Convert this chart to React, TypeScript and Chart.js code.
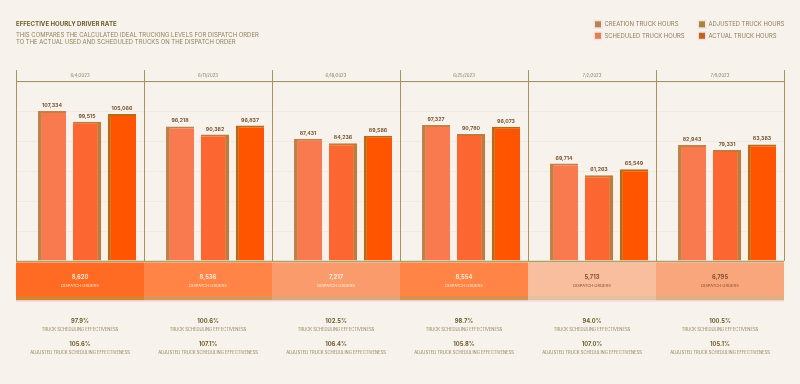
import React, { useEffect, useRef } from "react";
import { Chart, registerables } from "chart.js";

Chart.register(...registerables);

const weeks = ["6/4/2023", "6/11/2023", "6/18/2023", "6/25/2023", "7/2/2023", "7/9/2023"];
const creationHours = [107334, 96218, 87431, 97327, 69714, 82943];
const scheduledHours = [99515, 90382, 84236, 90780, 61263, 79331];
const actualHours = [105066, 96837, 89586, 96073, 65549, 83383];
const dispatchOrders = [8620, 8536, 7217, 8554, 5713, 6795];
const schedulingEffectiveness = ["97.9%", "100.6%", "102.5%", "98.7%", "94.0%", "100.5%"];
const adjustedEffectiveness = ["105.6%", "107.1%", "106.4%", "105.8%", "107.0%", "105.1%"];
const legendLabels = ["CREATION TRUCK HOURS", "SCHEDULED TRUCK HOURS", "ADJUSTED TRUCK HOURS", "ACTUAL TRUCK HOURS"];
const legendColors = ["#AE8A4E", "#DB834B", "#A08A38", "#BC6620"];

const TITLE = "EFFECTIVE HOURLY DRIVER RATE";
const SUB1 = "THIS COMPARES THE CALCULATED IDEAL TRUCKING LEVELS FOR DISPATCH ORDER";
const SUB2 = "TO THE ACTUAL USED AND SCHEDULED TRUCKS ON THE DISPATCH ORDER";

const panelColors = ["#FF6B22", "#FF8445", "#FA9B6C", "#FF8445", "#F8BE9E", "#F9A67D"];
const stripColors = ["#D8842F", "#D99659", "#DDA77A", "#D6914E", "#E4C19E", "#DFB084"];
const panelText = ["#FFE2CC", "#FFE6D6", "#FFEDE2", "#FFE6D6", "#8A4E2E", "#8A4E2E"];

const FONT = "Inter, 'Noto Sans', sans-serif";
const BAR_SHIFT = 7;
const fmt = (v: number) => v.toLocaleString("en-US");

const decor = {
  id: "decor",
  beforeDraw(chart: any) {
    const { ctx, chartArea: ca, scales } = chart;
    const x = scales.x;
    const n = weeks.length;
    const band = (ca.right - ca.left) / n;
    ctx.save();
    ctx.fillStyle = "#F7F3EC";
    ctx.fillRect(0, 0, chart.width, chart.height);

    ctx.textBaseline = "middle";
    ctx.textAlign = "left";
    ctx.fillStyle = "#6E5B2A";
    ctx.font = `bold 6.1px ${FONT}`;
    ctx.fillText(TITLE, 16, 24);
    ctx.fillStyle = "#8F7F5A";
    ctx.font = `5.95px ${FONT}`;
    ctx.fillText(SUB1, 16, 35);
    ctx.fillText(SUB2, 16, 42.3);

    // legend 2x2
    const cols = [595, 699];
    const rows = [24.3, 35.8];
    legendLabels.forEach((lab, i) => {
      const cx = cols[Math.floor(i / 2)];
      const cy = rows[i % 2];
      ctx.fillStyle = "#FBDDE3";
      ctx.fillRect(cx - 1.5, cy - 4.5, 9, 9);
      ctx.fillStyle = legendColors[i];
      ctx.fillRect(cx, cy - 3, 6, 6);
      ctx.fillStyle = "#8C7B57";
      ctx.font = `5.9px ${FONT}`;
      ctx.fillText(lab, cx + 9.5, cy);
    });

    // frame lines
    ctx.strokeStyle = "#A39463";
    ctx.lineWidth = 1;
    for (let i = 0; i <= n; i++) {
      const xx = Math.round(ca.left + i * band) + 0.5;
      ctx.beginPath();
      ctx.moveTo(xx, 70);
      ctx.lineTo(xx, ca.bottom);
      ctx.stroke();
    }
    ctx.beginPath();
    ctx.moveTo(ca.left, Math.round(ca.top) - 0.5);
    ctx.lineTo(ca.right, Math.round(ca.top) - 0.5);
    ctx.stroke();

    // dates
    ctx.textAlign = "center";
    ctx.fillStyle = "#8C7B57";
    ctx.font = `4.3px ${FONT}`;
    weeks.forEach((w, i) => ctx.fillText(w, x.getPixelForValue(i), 75.5));

    // dispatch panels
    const pTop = ca.bottom + 1.5;
    weeks.forEach((_, i) => {
      const l = ca.left + i * band;
      ctx.fillStyle = panelColors[i];
      ctx.fillRect(l, pTop, band, 33.5);
      ctx.fillStyle = stripColors[i];
      ctx.fillRect(l, pTop + 33.5, band, 4.5);
      const cx = x.getPixelForValue(i);
      ctx.fillStyle = panelText[i];
      ctx.font = `bold 5.8px ${FONT}`;
      ctx.fillText(fmt(dispatchOrders[i]), cx, 277.3);
      ctx.font = `4.1px ${FONT}`;
      ctx.fillText("DISPATCH ORDERS", cx, 285.5);
    });
    ctx.fillStyle = "#FBDDE3";
    ctx.fillRect(ca.left, pTop + 38, ca.right - ca.left, 1.5);

    // stats
    weeks.forEach((_, i) => {
      const cx = x.getPixelForValue(i);
      ctx.fillStyle = "#6E5B2A";
      ctx.font = `bold 5.8px ${FONT}`;
      ctx.fillText(schedulingEffectiveness[i], cx, 321.6);
      ctx.fillText(adjustedEffectiveness[i], cx, 344.7);
      ctx.fillStyle = "#8F7F5A";
      ctx.font = `4.15px ${FONT}`;
      ctx.fillText("TRUCK SCHEDULING EFFECTIVENESS", cx, 329.4);
      ctx.fillText("ADJUSTED TRUCK SCHEDULING EFFECTIVENESS", cx, 353);
    });
    ctx.restore();
  },
  beforeDatasetsDraw(chart: any) {
    chart.ctx.save();
    chart.ctx.translate(BAR_SHIFT, 0);
  },
  afterDatasetsDraw(chart: any) {
    const { ctx, chartArea: ca } = chart;
    ctx.textAlign = "center";
    ctx.textBaseline = "middle";
    ctx.fillStyle = "#7B5634";
    ctx.font = `bold 5.2px ${FONT}`;
    chart.data.datasets.forEach((ds: any, di: number) => {
      const meta = chart.getDatasetMeta(di);
      meta.data.forEach((bar: any, i: number) => {
        ctx.fillText(fmt(ds.data[i]), bar.x, bar.y - 5.5);
      });
    });
    ctx.restore();
    ctx.save();
    ctx.strokeStyle = "#B49C62";
    ctx.lineWidth = 1.5;
    ctx.beginPath();
    ctx.moveTo(ca.left, ca.bottom + 0.5);
    ctx.lineTo(ca.right, ca.bottom + 0.5);
    ctx.stroke();
    ctx.restore();
  },
};

export default function App() {
  const ref = useRef<HTMLCanvasElement>(null);
  useEffect(() => {
    if (!ref.current) return;
    const chart = new Chart(ref.current, {
      type: "bar",
      data: {
        labels: weeks,
        datasets: [
          {
            label: "CREATION TRUCK HOURS",
            data: creationHours,
            backgroundColor: "#F97A4E",
            borderColor: "#C48049",
            borderWidth: { top: 2, left: 4, right: 0, bottom: 0 },
            borderSkipped: false,
          },
          {
            label: "SCHEDULED TRUCK HOURS",
            data: scheduledHours,
            backgroundColor: "#FC6630",
            borderColor: "#C27A38",
            borderWidth: { top: 2, left: 0, right: 4, bottom: 0 },
            borderSkipped: false,
          },
          {
            label: "ACTUAL TRUCK HOURS",
            data: actualHours,
            backgroundColor: "#FF5400",
            borderColor: "#B96A12",
            borderWidth: { top: 2, left: 3, right: 0, bottom: 0 },
            borderSkipped: false,
          },
        ],
      },
      options: {
        responsive: false,
        animation: false,
        devicePixelRatio: 1,
        layout: { padding: { left: 16, right: 16, top: 82, bottom: 123 } },
        categoryPercentage: 0.82,
        barPercentage: 0.81,
        plugins: { legend: { display: false }, tooltip: { enabled: false } },
        scales: {
          x: { display: false },
          y: {
            display: true,
            min: 0,
            max: 128000,
            ticks: { display: false, stepSize: 128000 / 6 },
            grid: { drawTicks: false, color: "rgba(170,150,110,0.09)", lineWidth: 1 },
            border: { display: false },
          },
        },
      } as any,
      plugins: [decor],
    });
    return () => chart.destroy();
  }, []);
  return (
    <div style={{ position: "fixed", left: 0, top: 0, width: 800, height: 384 }}>
      <canvas ref={ref} width={800} height={384} style={{ display: "block" }} />
    </div>
  );
}
